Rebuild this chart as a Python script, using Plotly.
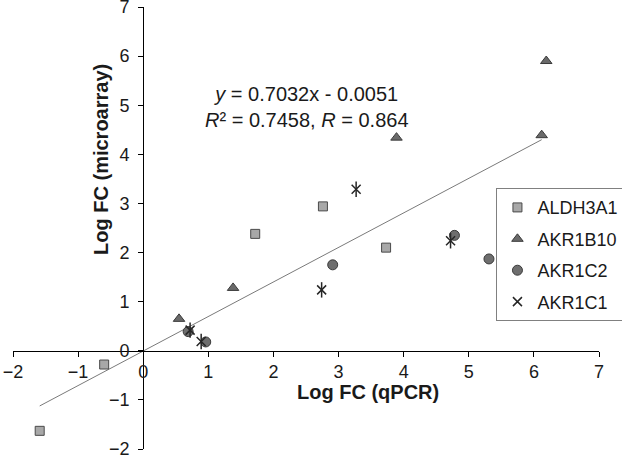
import plotly.graph_objects as go

# values (x = qPCR log FC, y = microarray log FC)
aldh3a1_x = [-1.59, -0.60, 1.72, 2.76, 3.73]
aldh3a1_y = [-1.63, -0.28, 2.38, 2.94, 2.10]

akr1b10_x = [0.55, 1.38, 3.89, 6.12, 6.19]
akr1b10_y = [0.65, 1.28, 4.34, 4.39, 5.90]

akr1c2_x = [0.69, 0.96, 2.91, 4.78, 5.31]
akr1c2_y = [0.39, 0.18, 1.75, 2.35, 1.87]

akr1c1_x = [0.72, 0.89, 2.74, 3.27, 4.72]
akr1c1_y = [0.42, 0.19, 1.24, 3.29, 2.24]

slope = 0.7032
intercept = -0.0051
fit_x = [-1.59, 6.12]
tick_vals = list(range(-2, 8))

font_family = "Liberation Sans, Arial, sans-serif"
text_color = "#1a1a1a"

fig = go.Figure()

fig.add_trace(
    go.Scatter(
        x=fit_x,
        y=[slope * v + intercept for v in fit_x],
        mode="lines",
        line={"color": "#7a7a7a", "width": 1},
        showlegend=False,
        hoverinfo="skip"
    )
)

series = [
    ("ALDH3A1", aldh3a1_x, aldh3a1_y, "square", 9, "#a8a8a8", "#4a4a4a"),
    ("AKR1B10", akr1b10_x, akr1b10_y, "triangle-up", 10, "#6a6a6a", "#3a3a3a"),
    ("AKR1C2", akr1c2_x, akr1c2_y, "circle", 10, "#6e6e6e", "#3a3a3a"),
]
for name, xs, ys, symbol, size, fill, edge in series:
    fig.add_trace(
        go.Scatter(
            x=xs,
            y=ys,
            mode="markers",
            name=name,
            legendgroup=name,
            marker={
                "symbol": symbol,
                "size": size,
                "color": fill,
                "line": {"color": edge, "width": 1}
            }
        )
    )

# asterisk: an x with a vertical stroke
fig.add_trace(
    go.Scatter(
        x=akr1c1_x,
        y=akr1c1_y,
        mode="markers",
        name="AKR1C1",
        legendgroup="AKR1C1",
        marker={
            "symbol": "x-thin-open",
            "size": 9,
            "color": "#262626",
            "line": {"color": "#262626", "width": 1.5}
        }
    )
)
fig.add_trace(
    go.Scatter(
        x=akr1c1_x,
        y=akr1c1_y,
        mode="markers",
        name="AKR1C1",
        legendgroup="AKR1C1",
        showlegend=False,
        marker={
            "symbol": "line-ns-open",
            "size": 11,
            "color": "#262626",
            "line": {"color": "#262626", "width": 1.5}
        }
    )
)

axis_style = {
    "range": [-2, 7],
    "tickvals": tick_vals,
    "showgrid": False,
    "zeroline": False,
    "showline": True,
    "linecolor": "#000000",
    "linewidth": 1.2,
    "ticks": "outside",
    "ticklen": 5,
    "tickcolor": "#000000",
    "tickfont": {"family": font_family, "size": 18, "color": text_color},
    "anchor": "free",
    "position": 2 / 9,
    "automargin": False,
    "ticklabeloverflow": "allow",
}

fig.update_layout(
    width=622,
    height=456,
    margin={"l": 13, "r": 23, "t": 7, "b": 7, "autoexpand": False},
    paper_bgcolor="white",
    plot_bgcolor="white",
    font={"family": font_family, "size": 19, "color": text_color},
    xaxis=axis_style,
    yaxis={**axis_style, "ticklabelstandoff": 5},
    legend={
        "x": 0.825,
        "y": 0.59,
        "xanchor": "left",
        "yanchor": "top",
        "bgcolor": "white",
        "bordercolor": "#808080",
        "borderwidth": 1,
        "tracegroupgap": 5,
        "itemwidth": 30,
        "font": {"family": font_family, "size": 18, "color": text_color},
    },
    annotations=[
        {
            "text": "<b>Log FC (qPCR)</b>",
            "xref": "paper", "yref": "paper",
            "x": 0.6055, "y": 0.0995,
            "showarrow": False,
            "font": {"size": 20},
        },
        {
            "text": "<b>Log FC (microarray)</b>",
            "xref": "paper", "yref": "paper",
            "x": 0.128, "y": 0.654,
            "textangle": -90,
            "showarrow": False,
            "font": {"size": 20},
        },
        {
            "text": "<i>y</i> = 0.7032x - 0.0051<br><i>R</i>² = 0.7458, <i>R</i> = 0.864",
            "xref": "paper", "yref": "paper",
            "x": 0.502, "y": 0.833,
            "showarrow": False,
            "align": "center",
            "font": {"size": 20},
        },
    ],
)

# the page body has a default 8px margin; drop it so the figure fills the window
fig.write_html(
    "out.html",
    config={"displayModeBar": False},
    post_script="document.body.style.margin = '0';"
)
